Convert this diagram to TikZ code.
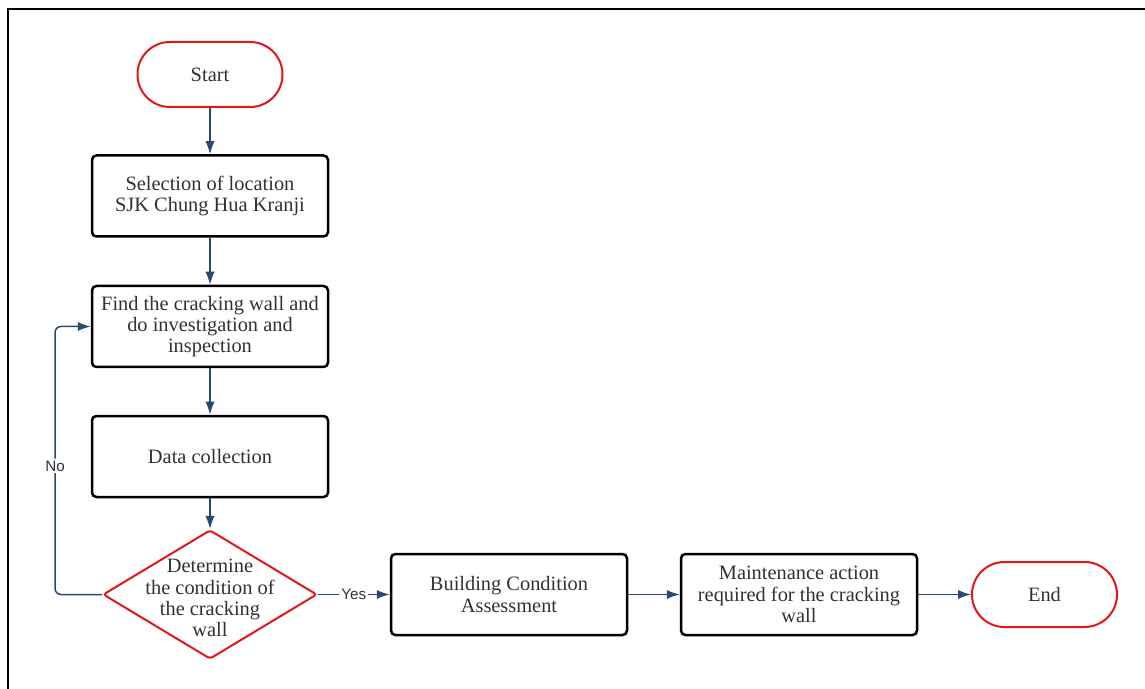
\documentclass[tikz,border=0pt]{standalone}
\usepackage{fontspec}
\setmainfont{Liberation Serif}
\newfontfamily\labelfont{Liberation Sans}
\usetikzlibrary{shapes.geometric,arrows.meta}
\definecolor{flowblue}{RGB}{40,74,112}
\definecolor{termred}{RGB}{228,22,26}
\definecolor{txtgray}{RGB}{45,50,55}
\begin{document}
\begin{tikzpicture}[x=0.5pt,y=-0.5pt,>={Latex[length=6.5pt,width=4.6pt]},
    every node/.style={text=txtgray,font=\fontsize{10.2}{10.6}\selectfont,align=center},
    terminal/.style={draw=termred,line width=1pt,rounded corners=16.2pt,minimum width=72.5pt,minimum height=32.5pt},
    process/.style={draw=black,line width=1.25pt,rounded corners=2.2pt,minimum width=118pt,minimum height=40.5pt,inner sep=1pt},
    decision/.style={draw=termred,line width=1pt,diamond,rounded corners=1.5pt,minimum width=107pt,minimum height=64.5pt,inner sep=0pt},
    flow/.style={->,draw=flowblue,line width=0.75pt},
    answer/.style={fill=white,inner sep=1pt,font=\labelfont\fontsize{7.6}{8}\selectfont}]
        \useasboundingbox(0,0)rectangle(1145,689);
        \draw[line width=1.25pt](8,689)--(8,9)--(1145,9);
        % main column
        \node[terminal](start)at(210,74.5){Start};
        \node[process](sel)at(210,196){Selection of location\\SJK Chung Hua Kranji};
        \node[process](find)at(210,326.5){Find the cracking wall and\\do investigation and\\inspection};
        \node[process](data)at(210,456.5){Data collection};
        \node[decision](dec)at(210,594.5){};
        \node(dectext)at(210,598){Determine\\the condition of\\the cracking\\wall};
        % bottom row
        \node[process](bca)at(509,594.5){Building Condition\\Assessment};
        \node[process](maint)at(799,594.5){Maintenance action\\required for the cracking\\wall};
        \node[terminal](end)at(1044.5,594.5){End};
        \coordinate(loop)at(55,594.5);
        \draw[flow](start)--(sel);
        \draw[flow](sel)--(find);
        \draw[flow](find)--(data);
        \draw[flow](data)--(dec);
        \draw[flow](dec)--node[answer]{Yes}(bca);
        \draw[flow](bca)--(maint);
        \draw[flow](maint)--(end);
        \draw[flow,rounded corners=3pt](dec.west)--(loop)|-node[answer,pos=.24]{No}(find.west);
\end{tikzpicture}
\end{document}
